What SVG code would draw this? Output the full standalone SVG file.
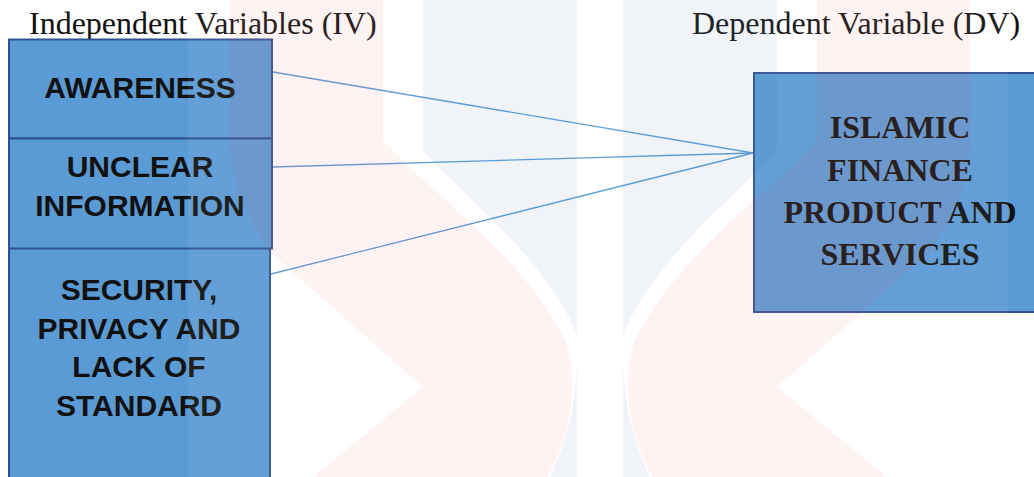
<svg xmlns="http://www.w3.org/2000/svg" width="1034" height="477" viewBox="0 0 1034 477">
  <style>
    .box { fill: #5b9bd5; stroke: #2f528f; stroke-width: 2; }
    .iv { font-family: "Liberation Sans", Arial, sans-serif; font-weight: bold; font-size: 30px; fill: #111; text-anchor: middle; }
    .dv { font-family: "Liberation Serif", "Times New Roman", serif; font-weight: bold; font-size: 32px; fill: #111; text-anchor: middle; }
    .title { font-family: "Liberation Serif", "Times New Roman", serif; font-size: 32px; fill: #111; }
    .conn { stroke: #5b9bd5; stroke-width: 1.3; fill: none; }
    .wm-pink { fill: rgb(224,48,48); fill-opacity: 0.06; }
    .wm-blue { fill: rgb(40,100,170); fill-opacity: 0.07; }
    .wm-white { fill: #fff; fill-opacity: 0.06; }
  </style>
  <rect x="0" y="0" width="1034" height="477" fill="#fff"/>

  <text class="title" x="29" y="34">Independent Variables (IV)</text>
  <text class="title" x="692" y="34">Dependent Variable (DV)</text>

  <g id="connectors">
    <line class="conn" x1="273" y1="72" x2="753" y2="153"/>
    <line class="conn" x1="273" y1="167" x2="753" y2="153"/>
    <line class="conn" x1="271" y1="274" x2="753" y2="153"/>
  </g>

  <g id="node-security">
    <rect class="box" x="9" y="248" width="261" height="240"/>
    <text class="iv" x="139" y="300">SECURITY,</text>
    <text class="iv" x="139" y="339">PRIVACY AND</text>
    <text class="iv" x="139" y="377">LACK OF</text>
    <text class="iv" x="139" y="416">STANDARD</text>
  </g>
  <g id="node-awareness">
    <rect class="box" x="9" y="39.5" width="263" height="99"/>
    <text class="iv" x="140" y="98">AWARENESS</text>
  </g>
  <g id="node-unclear">
    <rect class="box" x="9" y="138.5" width="263" height="110"/>
    <text class="iv" x="140" y="177">UNCLEAR</text>
    <text class="iv" x="140" y="216">INFORMATION</text>
  </g>
  <g id="node-dv">
    <rect class="box" x="754" y="73" width="290" height="239"/>
    <text class="dv" x="900" y="138">ISLAMIC</text>
    <text class="dv" x="900" y="181">FINANCE</text>
    <text class="dv" x="900" y="223">PRODUCT AND</text>
    <text class="dv" x="900" y="265">SERVICES</text>
  </g>

  <g id="watermark">
    <rect class="wm-white" x="188" y="0" width="820" height="477"/>
    <path class="wm-blue" d="M423,0 H577 V477 H550 C572,430 578,390 577,335 C545,255 455,190 423,150 Z"/>
    <path class="wm-blue" d="M777,0 H623 V477 H650 C628,430 622,390 623,335 C655,255 745,190 777,150 Z"/>
    <path class="wm-pink" d="M230,0 H383 V140 C420,185 520,250 565,340 C580,380 570,440 547,477 H313 L423,387 L273,255 C245,220 230,180 230,140 Z"/>
    <path class="wm-pink" d="M970,0 H817 V140 C780,185 680,250 635,340 C620,380 630,440 653,477 H887 L777,387 L927,255 C955,220 970,180 970,140 Z"/>
  </g>
</svg>
